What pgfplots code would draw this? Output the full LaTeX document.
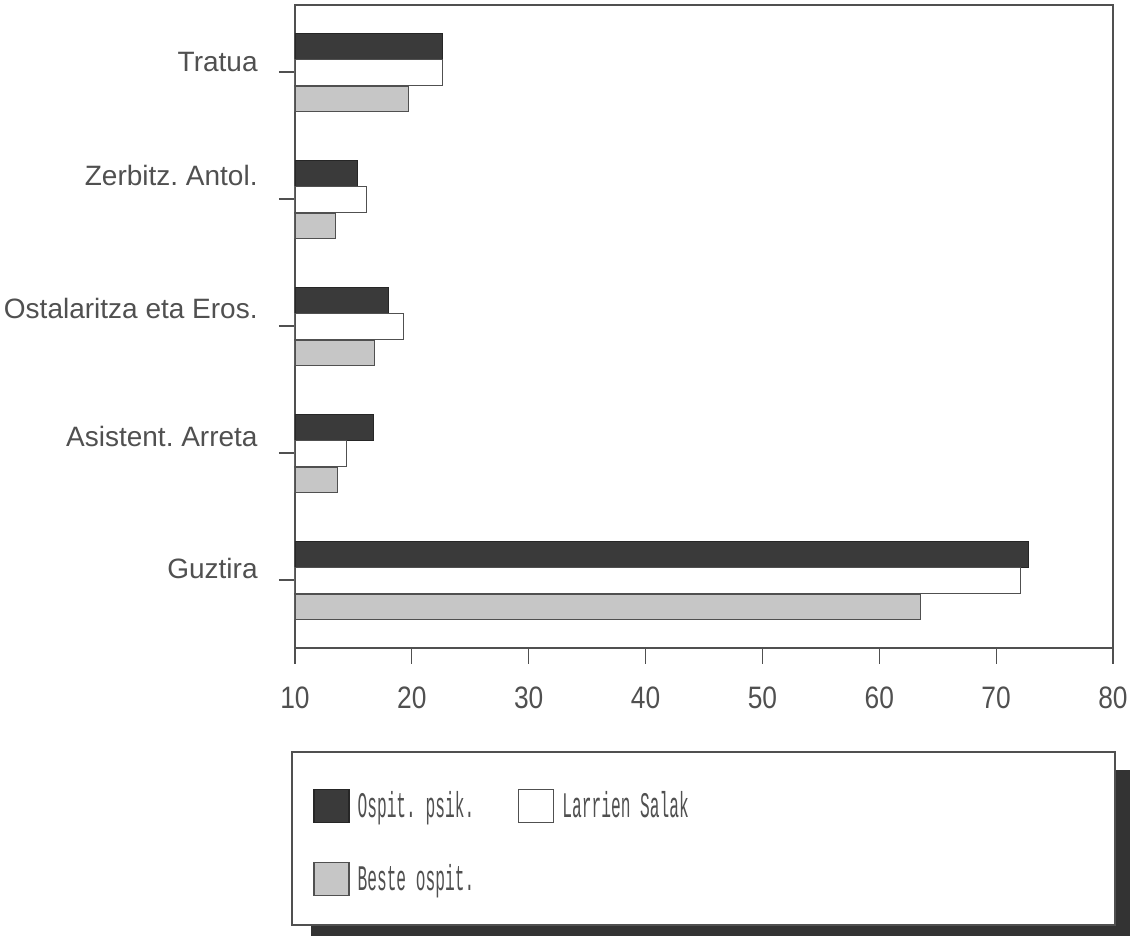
\documentclass[border=0pt]{standalone}
\usepackage{pgfplots}
\pgfplotsset{compat=1.18}
\usepackage{fontspec}
\setmainfont{Liberation Sans}
\newfontfamily\tickfont[FakeStretch=0.85]{Liberation Sans}
\newfontfamily\legfont[FakeStretch=0.45]{Liberation Mono}
\definecolor{darkbar}{RGB}{58,58,58}
\definecolor{lightbar}{RGB}{198,198,198}
\definecolor{inkc}{RGB}{80,80,80}
\newcommand{\rl}[2]{\raisebox{#1}[0.72em][0.2em]{#2}}
\frenchspacing
\begin{document}
\begin{tikzpicture}
\path[use as bounding box] (-147.5pt,-144pt) rectangle (417.5pt,324pt);
\fill[black!80] (8pt,-61pt) rectangle (417.5pt,-144pt);
\draw[inkc, line width=0.6pt, fill=white] (-1.5pt,-52pt) rectangle (410pt,-138.5pt);
\begin{axis}[
  at={(0,0)}, anchor=south west,
  scale only axis, width=409pt, height=321.5pt,
  xbar, bar width=13pt,
  xmin=10, xmax=80, ymin=-0.535, ymax=4.528,
  xtick={10,20,...,80},
  ytick={0,1,2,3,4},
  yticklabels={\rl{4.5pt}{Guztira}, \rl{7pt}{Asistent. Arreta}, \rl{7.5pt}{Ostalaritza eta Eros.}, \rl{10.5pt}{Zerbitz. Antol.}, \rl{4pt}{Tratua}},
  tick pos=left, tick align=outside,
  major tick length=8pt,
  axis line style={inkc, line width=0.6pt},
  every tick/.style={inkc, line width=0.6pt},
  /pgf/number format/assume math mode=true,
  yticklabel style={font=\fontsize{14}{16}\selectfont, text=inkc, anchor=east, inner sep=0pt, xshift=-10.5pt},
  xticklabel style={font=\tickfont\fontsize{15.5}{18}\selectfont, text=inkc, anchor=north, inner sep=0pt, yshift=-11pt},
  legend columns=2,
  legend image code/.code={\draw[#1, line width=0.6pt] (0pt,-8.25pt) rectangle (17.5pt,8.25pt);},
  legend style={draw=none, fill=none, at={(axis description cs:0.022,-0.216)}, anchor=north west,
    inner sep=0pt, font=\legfont\fontsize{18}{20}\selectfont, text=inkc, row sep=18pt,
    /tikz/every odd column/.append style={column sep=2pt},
    /tikz/every even column/.append style={column sep=20pt}},
  clip=true,
]
\addplot[draw=black!85, fill=darkbar, bar shift=13pt] coordinates {(72.8,0) (16.7,1) (18.0,2) (15.3,3) (22.6,4)};
\addplot[draw=inkc, fill=white, bar shift=0pt] coordinates {(72.1,0) (14.4,1) (19.3,2) (16.1,3) (22.6,4)};
\addplot[draw=inkc, fill=lightbar, bar shift=-13.5pt, bar width=12.5pt] coordinates {(63.5,0) (13.6,1) (16.8,2) (13.5,3) (19.7,4)};
\legend{Ospit. psik., Larrien Salak, Beste ospit.}
\end{axis}
\end{tikzpicture}
\end{document}
